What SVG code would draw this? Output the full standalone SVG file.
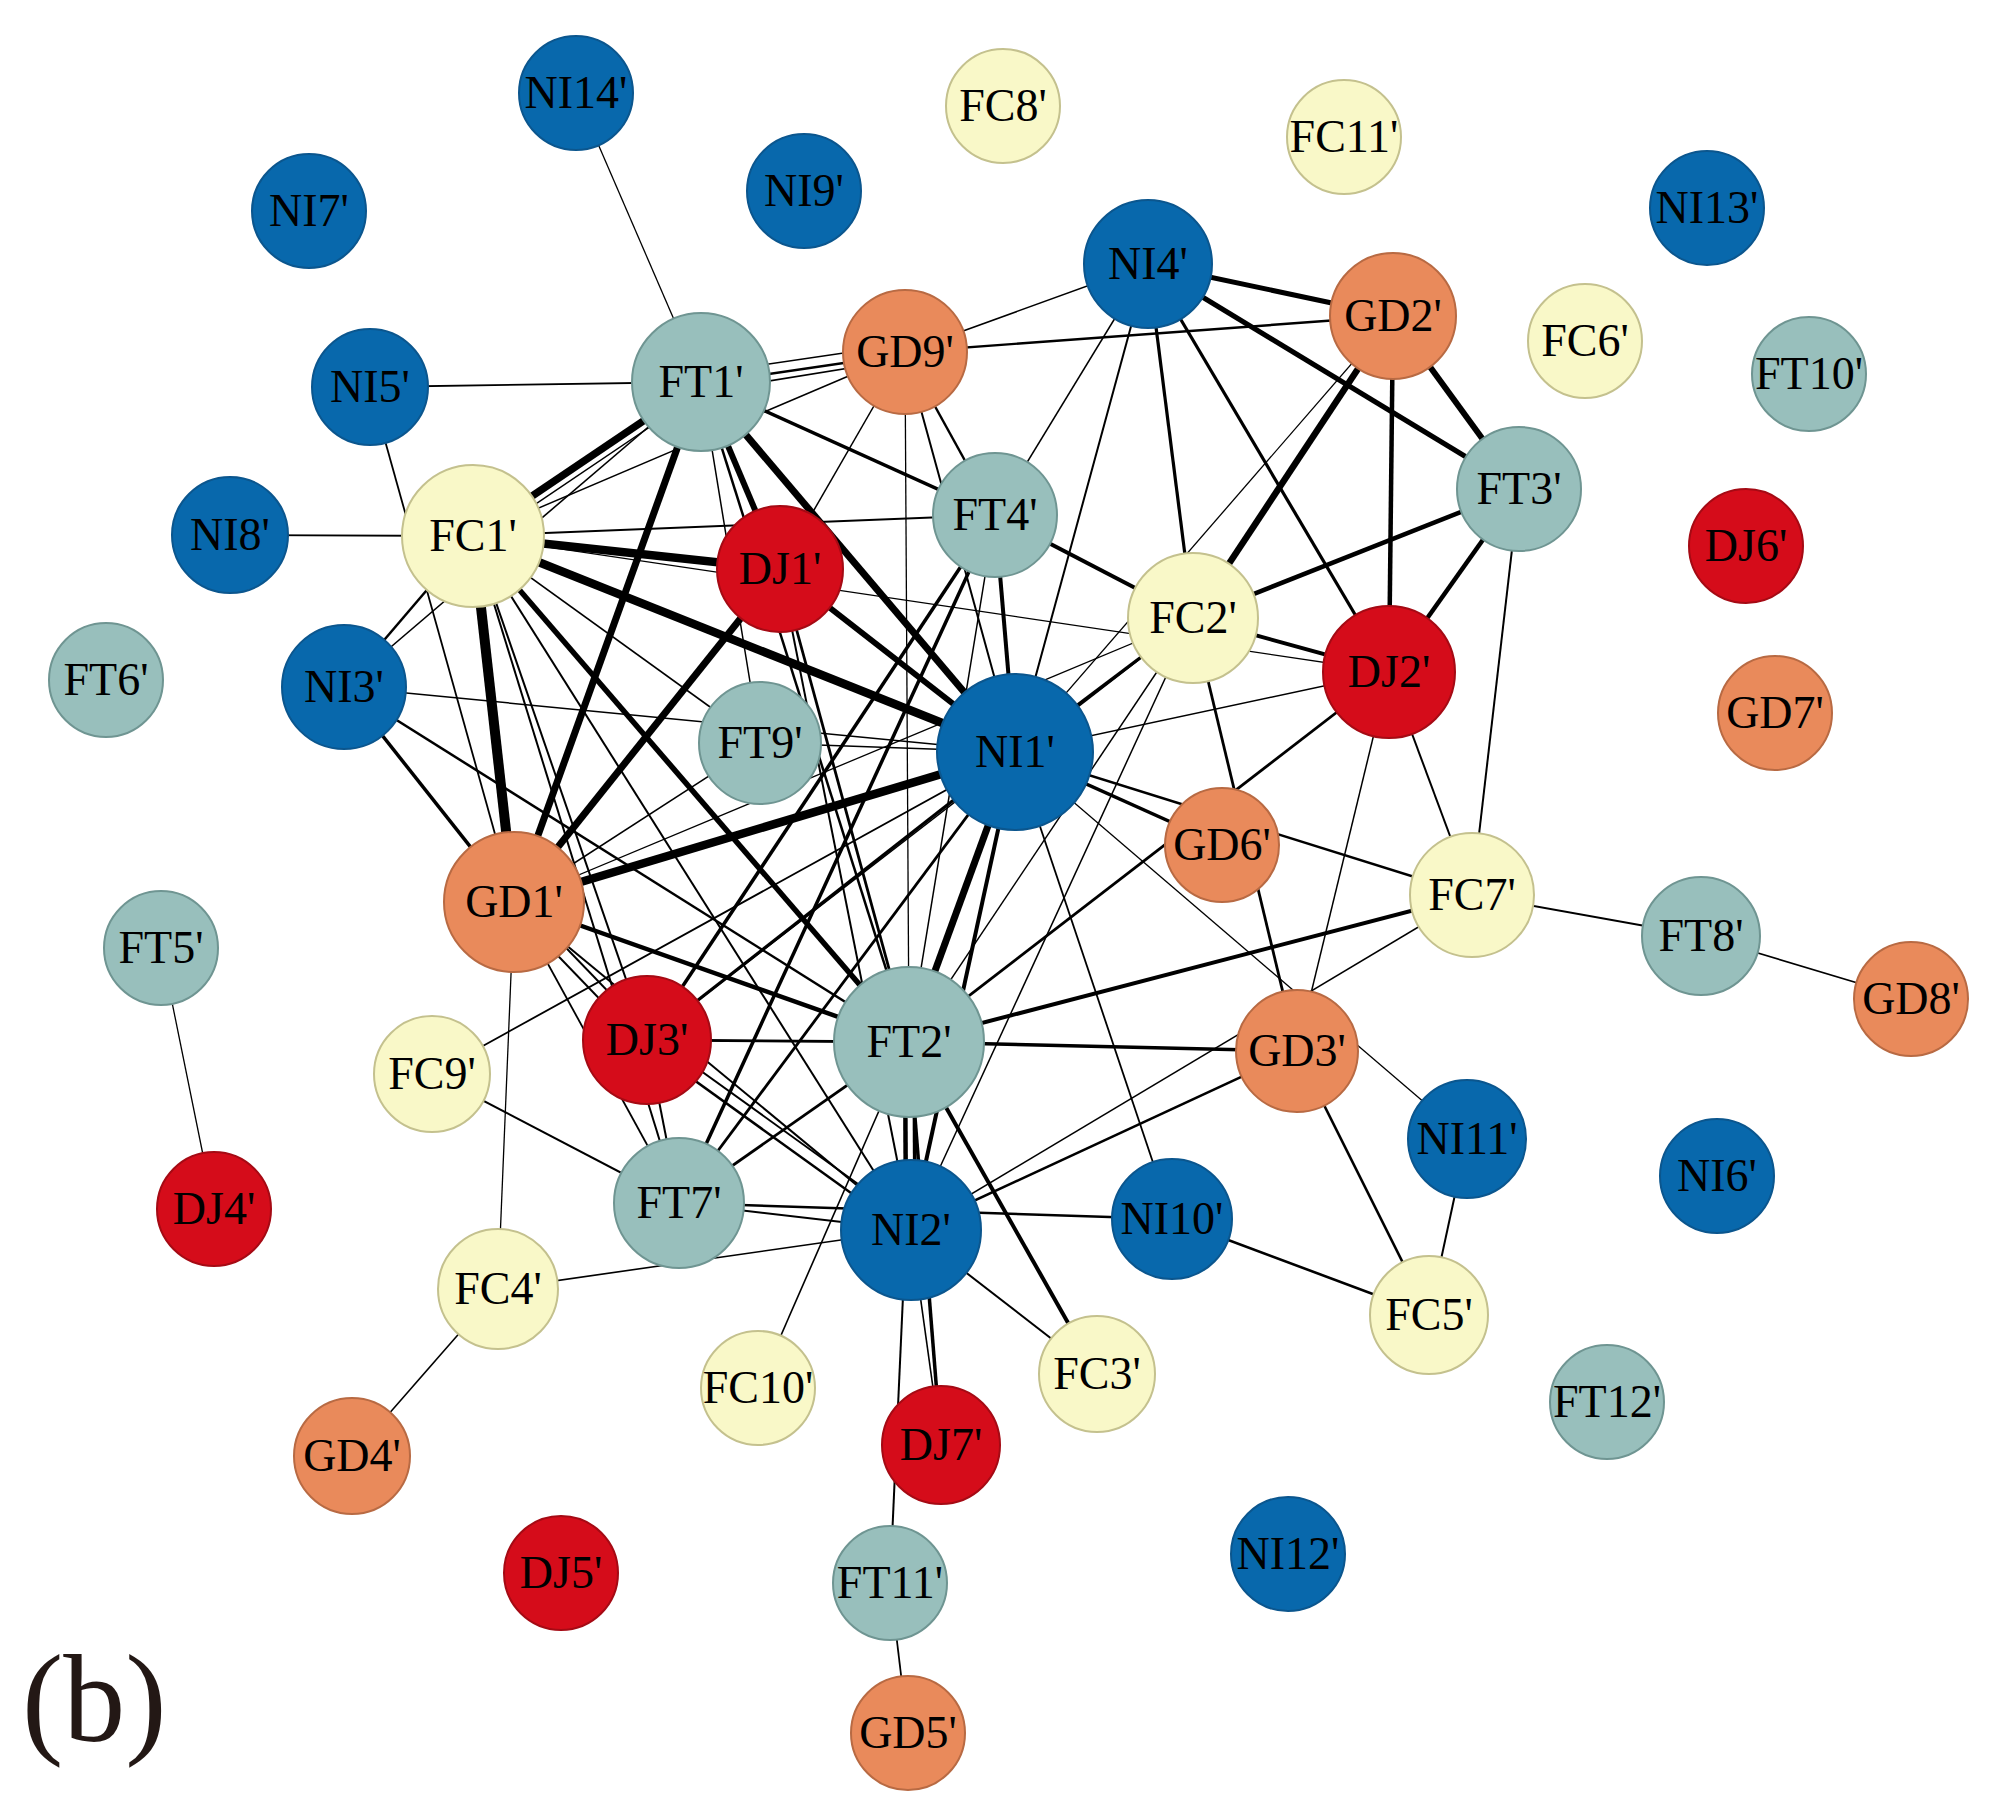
<svg xmlns="http://www.w3.org/2000/svg" width="2000" height="1811" viewBox="0 0 2000 1811">
<style>
.bg{fill:#ffffff}
#edges line{stroke:#000000;fill:none}
.n circle{stroke-width:2}
.ni circle{fill:#0868ac;stroke:#0b568e}
.ft circle{fill:#98bfbc;stroke:#6f9592}
.fc circle{fill:#f9f8c8;stroke:#c4c18e}
.gd circle{fill:#e98a5b;stroke:#b86a43}
.dj circle{fill:#d50c1a;stroke:#a50a14}
.n text{font-family:"Liberation Serif","Times New Roman",serif;font-size:46px;fill:#000000;text-anchor:middle}
.lbl{font-family:"Liberation Serif","Times New Roman",serif;font-size:124px;fill:#231815}
</style>
<rect class="bg" x="0" y="0" width="2000" height="1811"/>
<g id="edges">
<line x1="576" y1="93" x2="701" y2="382" stroke-width="1.3"/>
<line x1="370" y1="387" x2="701" y2="382" stroke-width="1.8"/>
<line x1="370" y1="387" x2="514" y2="902" stroke-width="1.8"/>
<line x1="230" y1="535" x2="473" y2="536" stroke-width="1.8"/>
<line x1="161" y1="948" x2="214" y2="1209" stroke-width="1.3"/>
<line x1="498" y1="1289" x2="352" y2="1456" stroke-width="1.6"/>
<line x1="498" y1="1289" x2="514" y2="902" stroke-width="1.3"/>
<line x1="498" y1="1289" x2="911" y2="1230" stroke-width="1.6"/>
<line x1="432" y1="1074" x2="679" y2="1203" stroke-width="2"/>
<line x1="432" y1="1074" x2="1015" y2="752" stroke-width="1.8"/>
<line x1="906" y1="1230" x2="890" y2="1583" stroke-width="2"/>
<line x1="890" y1="1583" x2="908" y2="1733" stroke-width="1.8"/>
<line x1="1472" y1="895" x2="1701" y2="936" stroke-width="2"/>
<line x1="1701" y1="936" x2="1911" y2="999" stroke-width="1.6"/>
<line x1="1467" y1="1139" x2="1429" y2="1315" stroke-width="2"/>
<line x1="1297" y1="1051" x2="1429" y2="1315" stroke-width="2.6"/>
<line x1="1172" y1="1219" x2="1429" y2="1315" stroke-width="2.6"/>
<line x1="679" y1="1203" x2="1172" y2="1219" stroke-width="2.6"/>
<line x1="1172" y1="1219" x2="1015" y2="752" stroke-width="1.8"/>
<line x1="911" y1="1230" x2="1097" y2="1374" stroke-width="2"/>
<line x1="909" y1="1042" x2="1097" y2="1374" stroke-width="4"/>
<line x1="758" y1="1388" x2="909" y2="1042" stroke-width="1.6"/>
<line x1="911" y1="1230" x2="941" y2="1445" stroke-width="1.6"/>
<line x1="909" y1="1042" x2="941" y2="1445" stroke-width="3.5"/>
<line x1="473" y1="536" x2="701" y2="382" stroke-width="7.5"/>
<line x1="478" y1="543" x2="706" y2="389" stroke-width="1.5"/>
<line x1="473" y1="536" x2="905" y2="352" stroke-width="1.5"/>
<line x1="473" y1="536" x2="995" y2="515" stroke-width="2"/>
<line x1="473" y1="536" x2="780" y2="569" stroke-width="8.5"/>
<line x1="473" y1="536" x2="1389" y2="672" stroke-width="1.3"/>
<line x1="473" y1="536" x2="1015" y2="752" stroke-width="8.5"/>
<line x1="473" y1="536" x2="909" y2="1042" stroke-width="5.5"/>
<line x1="473" y1="536" x2="760" y2="743" stroke-width="1.6"/>
<line x1="473" y1="536" x2="514" y2="902" stroke-width="10"/>
<line x1="473" y1="536" x2="344" y2="687" stroke-width="2.5"/>
<line x1="344" y1="687" x2="701" y2="382" stroke-width="1.6"/>
<line x1="473" y1="536" x2="647" y2="1040" stroke-width="2"/>
<line x1="473" y1="536" x2="679" y2="1203" stroke-width="2"/>
<line x1="473" y1="536" x2="911" y2="1230" stroke-width="2"/>
<line x1="701" y1="374" x2="905" y2="344" stroke-width="1.5"/>
<line x1="701" y1="384" x2="905" y2="354" stroke-width="2.5"/>
<line x1="701" y1="392" x2="905" y2="359" stroke-width="1.5"/>
<line x1="701" y1="382" x2="995" y2="515" stroke-width="3.5"/>
<line x1="701" y1="382" x2="1015" y2="752" stroke-width="7"/>
<line x1="701" y1="382" x2="780" y2="569" stroke-width="6"/>
<line x1="701" y1="382" x2="514" y2="902" stroke-width="7"/>
<line x1="701" y1="382" x2="760" y2="743" stroke-width="1.5"/>
<line x1="701" y1="382" x2="909" y2="1042" stroke-width="2.5"/>
<line x1="905" y1="352" x2="1393" y2="316" stroke-width="2.4"/>
<line x1="905" y1="352" x2="1148" y2="264" stroke-width="1.5"/>
<line x1="905" y1="352" x2="995" y2="515" stroke-width="2.4"/>
<line x1="905" y1="352" x2="1015" y2="752" stroke-width="2"/>
<line x1="905" y1="352" x2="909" y2="1042" stroke-width="1.3"/>
<line x1="905" y1="352" x2="780" y2="569" stroke-width="1.5"/>
<line x1="1148" y1="264" x2="1393" y2="316" stroke-width="5"/>
<line x1="1148" y1="264" x2="1519" y2="489" stroke-width="5"/>
<line x1="1148" y1="264" x2="1389" y2="672" stroke-width="3.2"/>
<line x1="1148" y1="264" x2="1193" y2="618" stroke-width="3.2"/>
<line x1="1148" y1="264" x2="995" y2="515" stroke-width="1.5"/>
<line x1="1148" y1="264" x2="1015" y2="752" stroke-width="2"/>
<line x1="1393" y1="316" x2="1193" y2="618" stroke-width="6.5"/>
<line x1="1393" y1="316" x2="1015" y2="752" stroke-width="1.3"/>
<line x1="1393" y1="316" x2="1389" y2="672" stroke-width="4.5"/>
<line x1="1393" y1="316" x2="1519" y2="489" stroke-width="6"/>
<line x1="1519" y1="489" x2="1193" y2="618" stroke-width="4.5"/>
<line x1="1519" y1="489" x2="1389" y2="672" stroke-width="4.5"/>
<line x1="1519" y1="489" x2="1472" y2="895" stroke-width="2"/>
<line x1="995" y1="515" x2="1193" y2="618" stroke-width="4"/>
<line x1="995" y1="515" x2="1015" y2="752" stroke-width="4"/>
<line x1="995" y1="515" x2="909" y2="1042" stroke-width="1.5"/>
<line x1="995" y1="515" x2="647" y2="1040" stroke-width="3.5"/>
<line x1="995" y1="515" x2="679" y2="1203" stroke-width="3.5"/>
<line x1="1193" y1="618" x2="1389" y2="672" stroke-width="4"/>
<line x1="1193" y1="618" x2="1015" y2="752" stroke-width="3.2"/>
<line x1="1193" y1="618" x2="647" y2="1040" stroke-width="1.5"/>
<line x1="1193" y1="618" x2="911" y2="1230" stroke-width="1.5"/>
<line x1="1193" y1="618" x2="1297" y2="1051" stroke-width="2.8"/>
<line x1="1193" y1="618" x2="909" y2="1042" stroke-width="1.5"/>
<line x1="514" y1="902" x2="1193" y2="618" stroke-width="1.3"/>
<line x1="1389" y1="672" x2="1015" y2="752" stroke-width="1.5"/>
<line x1="1389" y1="672" x2="1297" y2="1051" stroke-width="1.5"/>
<line x1="1389" y1="672" x2="1472" y2="895" stroke-width="2"/>
<line x1="909" y1="1042" x2="1389" y2="672" stroke-width="2.8"/>
<line x1="1015" y1="752" x2="1222" y2="845" stroke-width="3.5"/>
<line x1="1015" y1="752" x2="1472" y2="895" stroke-width="2.5"/>
<line x1="1015" y1="752" x2="1467" y2="1139" stroke-width="1.3"/>
<line x1="1472" y1="895" x2="909" y2="1042" stroke-width="4"/>
<line x1="911" y1="1230" x2="1472" y2="895" stroke-width="1.5"/>
<line x1="1297" y1="1051" x2="909" y2="1042" stroke-width="3.5"/>
<line x1="911" y1="1230" x2="1297" y2="1051" stroke-width="2.6"/>
<line x1="1015" y1="752" x2="760" y2="743" stroke-width="1.5"/>
<line x1="344" y1="687" x2="1015" y2="752" stroke-width="1.5"/>
<line x1="514" y1="902" x2="1015" y2="752" stroke-width="8.5"/>
<line x1="1015" y1="752" x2="909" y2="1042" stroke-width="7"/>
<line x1="1015" y1="752" x2="911" y2="1230" stroke-width="4"/>
<line x1="1015" y1="752" x2="647" y2="1040" stroke-width="3.2"/>
<line x1="1015" y1="752" x2="679" y2="1203" stroke-width="2.8"/>
<line x1="780" y1="569" x2="1015" y2="752" stroke-width="6"/>
<line x1="780" y1="569" x2="909" y2="1042" stroke-width="2.8"/>
<line x1="780" y1="569" x2="911" y2="1230" stroke-width="2"/>
<line x1="780" y1="569" x2="514" y2="902" stroke-width="7"/>
<line x1="679" y1="1203" x2="909" y2="1042" stroke-width="2.8"/>
<line x1="679" y1="1203" x2="911" y2="1230" stroke-width="2"/>
<line x1="647" y1="1040" x2="909" y2="1042" stroke-width="2.8"/>
<line x1="644" y1="1044" x2="908" y2="1234" stroke-width="2.5"/>
<line x1="651" y1="1035" x2="915" y2="1225" stroke-width="2"/>
<line x1="647" y1="1040" x2="679" y2="1203" stroke-width="2"/>
<line x1="510" y1="906" x2="643" y2="1044" stroke-width="2"/>
<line x1="518" y1="898" x2="651" y2="1036" stroke-width="2"/>
<line x1="514" y1="902" x2="911" y2="1230" stroke-width="2"/>
<line x1="514" y1="902" x2="679" y2="1203" stroke-width="1.8"/>
<line x1="514" y1="902" x2="909" y2="1042" stroke-width="4.5"/>
<line x1="514" y1="902" x2="760" y2="743" stroke-width="1.5"/>
<line x1="514" y1="902" x2="344" y2="687" stroke-width="3.5"/>
<line x1="344" y1="687" x2="909" y2="1042" stroke-width="2.5"/>
<line x1="905" y1="1042" x2="906" y2="1230" stroke-width="4.5"/>
<line x1="914" y1="1042" x2="915" y2="1230" stroke-width="3.5"/>
</g>
<g id="node-NI14" class="n ni"><circle cx="576" cy="93" r="57"/><text x="576" y="108">NI14'</text></g>
<g id="node-NI7" class="n ni"><circle cx="309" cy="211" r="57"/><text x="309" y="226">NI7'</text></g>
<g id="node-NI9" class="n ni"><circle cx="804" cy="191" r="57"/><text x="804" y="206">NI9'</text></g>
<g id="node-FC8" class="n fc"><circle cx="1003" cy="106" r="57"/><text x="1003" y="121">FC8'</text></g>
<g id="node-FC11" class="n fc"><circle cx="1344" cy="137" r="57"/><text x="1344" y="152">FC11'</text></g>
<g id="node-NI13" class="n ni"><circle cx="1707" cy="208" r="57"/><text x="1707" y="223">NI13'</text></g>
<g id="node-NI4" class="n ni"><circle cx="1148" cy="264" r="64"/><text x="1148" y="279">NI4'</text></g>
<g id="node-GD2" class="n gd"><circle cx="1393" cy="316" r="63"/><text x="1393" y="331">GD2'</text></g>
<g id="node-FC6" class="n fc"><circle cx="1585" cy="341" r="57"/><text x="1585" y="356">FC6'</text></g>
<g id="node-FT10" class="n ft"><circle cx="1809" cy="374" r="57"/><text x="1809" y="389">FT10'</text></g>
<g id="node-NI5" class="n ni"><circle cx="370" cy="387" r="58"/><text x="370" y="402">NI5'</text></g>
<g id="node-FT1" class="n ft"><circle cx="701" cy="382" r="69"/><text x="701" y="397">FT1'</text></g>
<g id="node-GD9" class="n gd"><circle cx="905" cy="352" r="62"/><text x="905" y="367">GD9'</text></g>
<g id="node-FT3" class="n ft"><circle cx="1519" cy="489" r="62"/><text x="1519" y="504">FT3'</text></g>
<g id="node-DJ6" class="n dj"><circle cx="1746" cy="546" r="57"/><text x="1746" y="561">DJ6'</text></g>
<g id="node-NI8" class="n ni"><circle cx="230" cy="535" r="58"/><text x="230" y="550">NI8'</text></g>
<g id="node-FC1" class="n fc"><circle cx="473" cy="536" r="71"/><text x="473" y="551">FC1'</text></g>
<g id="node-DJ1" class="n dj"><circle cx="780" cy="569" r="63"/><text x="780" y="584">DJ1'</text></g>
<g id="node-FT4" class="n ft"><circle cx="995" cy="515" r="62"/><text x="995" y="530">FT4'</text></g>
<g id="node-FC2" class="n fc"><circle cx="1193" cy="618" r="65"/><text x="1193" y="633">FC2'</text></g>
<g id="node-DJ2" class="n dj"><circle cx="1389" cy="672" r="66"/><text x="1389" y="687">DJ2'</text></g>
<g id="node-FT6" class="n ft"><circle cx="106" cy="680" r="57"/><text x="106" y="695">FT6'</text></g>
<g id="node-NI3" class="n ni"><circle cx="344" cy="687" r="62"/><text x="344" y="702">NI3'</text></g>
<g id="node-FT9" class="n ft"><circle cx="760" cy="743" r="61"/><text x="760" y="758">FT9'</text></g>
<g id="node-NI1" class="n ni"><circle cx="1015" cy="752" r="78"/><text x="1015" y="767">NI1'</text></g>
<g id="node-GD7" class="n gd"><circle cx="1775" cy="713" r="57"/><text x="1775" y="728">GD7'</text></g>
<g id="node-GD6" class="n gd"><circle cx="1222" cy="845" r="57"/><text x="1222" y="860">GD6'</text></g>
<g id="node-FC7" class="n fc"><circle cx="1472" cy="895" r="62"/><text x="1472" y="910">FC7'</text></g>
<g id="node-GD1" class="n gd"><circle cx="514" cy="902" r="70"/><text x="514" y="917">GD1'</text></g>
<g id="node-FT5" class="n ft"><circle cx="161" cy="948" r="57"/><text x="161" y="963">FT5'</text></g>
<g id="node-FT8" class="n ft"><circle cx="1701" cy="936" r="59"/><text x="1701" y="951">FT8'</text></g>
<g id="node-GD8" class="n gd"><circle cx="1911" cy="999" r="57"/><text x="1911" y="1014">GD8'</text></g>
<g id="node-DJ3" class="n dj"><circle cx="647" cy="1040" r="64"/><text x="647" y="1055">DJ3'</text></g>
<g id="node-FT2" class="n ft"><circle cx="909" cy="1042" r="75"/><text x="909" y="1057">FT2'</text></g>
<g id="node-GD3" class="n gd"><circle cx="1297" cy="1051" r="61"/><text x="1297" y="1066">GD3'</text></g>
<g id="node-FC9" class="n fc"><circle cx="432" cy="1074" r="58"/><text x="432" y="1089">FC9'</text></g>
<g id="node-NI11" class="n ni"><circle cx="1467" cy="1139" r="59"/><text x="1467" y="1154">NI11'</text></g>
<g id="node-NI6" class="n ni"><circle cx="1717" cy="1176" r="57"/><text x="1717" y="1191">NI6'</text></g>
<g id="node-DJ4" class="n dj"><circle cx="214" cy="1209" r="57"/><text x="214" y="1224">DJ4'</text></g>
<g id="node-FT7" class="n ft"><circle cx="679" cy="1203" r="65"/><text x="679" y="1218">FT7'</text></g>
<g id="node-NI2" class="n ni"><circle cx="911" cy="1230" r="70"/><text x="911" y="1245">NI2'</text></g>
<g id="node-NI10" class="n ni"><circle cx="1172" cy="1219" r="60"/><text x="1172" y="1234">NI10'</text></g>
<g id="node-FC4" class="n fc"><circle cx="498" cy="1289" r="60"/><text x="498" y="1304">FC4'</text></g>
<g id="node-FC5" class="n fc"><circle cx="1429" cy="1315" r="59"/><text x="1429" y="1330">FC5'</text></g>
<g id="node-FC10" class="n fc"><circle cx="758" cy="1388" r="57"/><text x="758" y="1403">FC10'</text></g>
<g id="node-FC3" class="n fc"><circle cx="1097" cy="1374" r="58"/><text x="1097" y="1389">FC3'</text></g>
<g id="node-FT12" class="n ft"><circle cx="1607" cy="1402" r="57"/><text x="1607" y="1417">FT12'</text></g>
<g id="node-GD4" class="n gd"><circle cx="352" cy="1456" r="58"/><text x="352" y="1471">GD4'</text></g>
<g id="node-DJ7" class="n dj"><circle cx="941" cy="1445" r="59"/><text x="941" y="1460">DJ7'</text></g>
<g id="node-DJ5" class="n dj"><circle cx="561" cy="1573" r="57"/><text x="561" y="1588">DJ5'</text></g>
<g id="node-NI12" class="n ni"><circle cx="1288" cy="1554" r="57"/><text x="1288" y="1569">NI12'</text></g>
<g id="node-FT11" class="n ft"><circle cx="890" cy="1583" r="57"/><text x="890" y="1598">FT11'</text></g>
<g id="node-GD5" class="n gd"><circle cx="908" cy="1733" r="57"/><text x="908" y="1748">GD5'</text></g>
<text class="lbl" x="22" y="1741">(b)</text>
</svg>
